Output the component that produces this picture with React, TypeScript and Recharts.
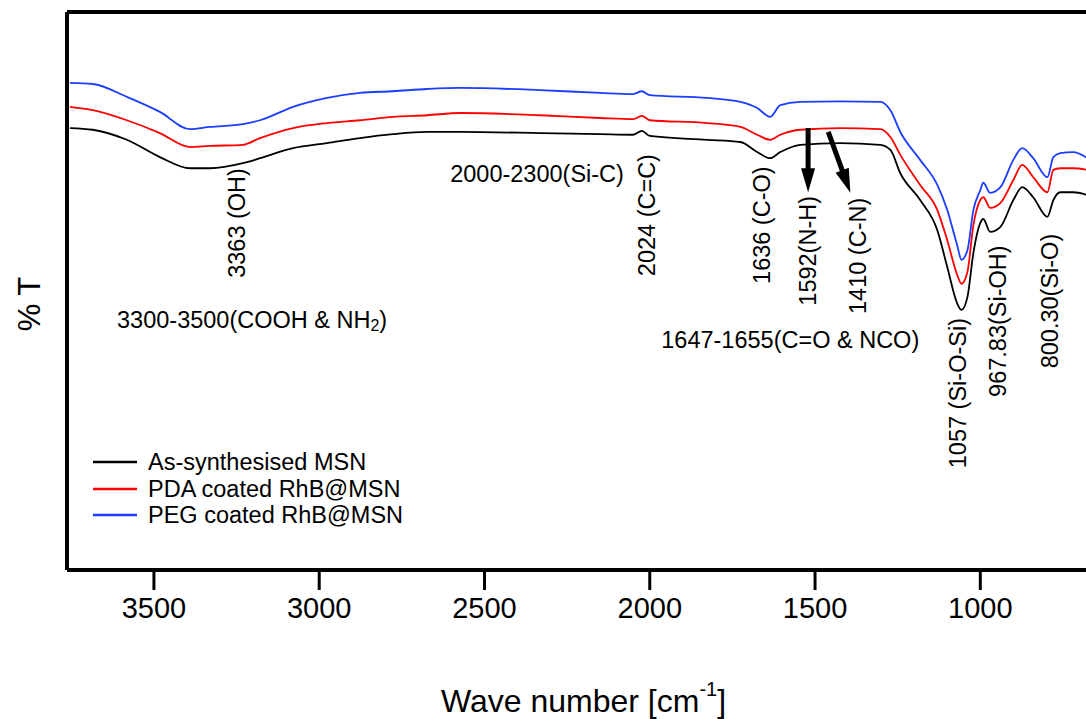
import React from 'react';
import { LineChart, Line, XAxis, YAxis, Legend, ReferenceDot, ReferenceLine } from 'recharts';

const FONT = '"Liberation Sans", Arial, Helvetica, sans-serif';

// Wave numbers (cm^-1)
const wavenumbers = [3754, 3685, 3582, 3482, 3391, 3331, 3231, 3179, 3079, 2976, 2877, 2777, 2674, 2574, 2332, 2150, 2050, 2024, 2000, 1826, 1726, 1675, 1636, 1605, 1545, 1424, 1303, 1272, 1242, 1182, 1130, 1100, 1070, 1057, 1039, 1021, 1000, 991, 970, 939, 900, 873, 840, 797, 779, 758, 719, 676];

// % T (arbitrary offset units)
const asSynthesised = [79.2, 78.9, 77.1, 74.0, 72.0, 72.0, 72.9, 73.8, 75.6, 76.5, 77.4, 78.1, 78.5, 78.5, 78.3, 78.1, 78.0, 78.7, 77.8, 77.1, 76.7, 74.9, 73.8, 74.9, 76.2, 76.5, 76.2, 75.3, 71.1, 66.3, 60.9, 54.3, 47.8, 46.6, 48.9, 56.8, 62.2, 62.9, 60.6, 61.5, 66.3, 68.6, 66.8, 63.3, 66.3, 67.7, 67.7, 67.2];
const pdaCoated = [83.0, 82.4, 80.6, 78.3, 75.8, 76.0, 76.2, 77.4, 79.2, 80.1, 80.6, 81.2, 81.5, 81.9, 81.5, 81.0, 80.8, 81.4, 80.6, 80.1, 79.4, 78.0, 77.1, 78.0, 78.9, 79.2, 79.0, 77.6, 74.4, 69.0, 64.5, 59.1, 52.9, 51.3, 53.4, 61.8, 66.3, 66.8, 64.9, 65.8, 69.9, 72.6, 70.4, 67.7, 71.7, 72.0, 72.0, 71.7];
const pegCoated = [87.3, 87.1, 84.8, 82.1, 79.0, 79.4, 79.9, 80.6, 83.0, 84.6, 85.5, 85.8, 86.2, 86.4, 86.0, 85.5, 85.3, 85.8, 85.1, 84.6, 83.9, 82.8, 81.2, 83.3, 83.9, 84.0, 83.9, 82.4, 78.5, 73.5, 69.0, 64.5, 58.2, 55.6, 57.3, 64.5, 68.1, 69.4, 67.6, 68.6, 73.5, 75.6, 73.8, 70.4, 74.0, 74.7, 74.9, 73.8];

const seriesNames = ['As-synthesised MSN', 'PDA coated RhB@MSN', 'PEG coated RhB@MSN'];
const xTicks = [3500, 3000, 2500, 2000, 1500, 1000];

const data = wavenumbers.map((w, i) => ({
  wn: w,
  msn: asSynthesised[i],
  pda: pdaCoated[i],
  peg: pegCoated[i],
}));

// Band annotations (text, anchor wave number, anchor %T, rotated?)
const bandNotes = [
  { text: '3363 (OH)', wn: 3249, t: 62.2, rot: true },
  { text: '2024 (C=C)', wn: 2008, t: 63.6, rot: true },
  { text: '1636 (C-O)', wn: 1660, t: 61.8, rot: true },
  { text: '1592(N-H)', wn: 1521, t: 57.2, rot: true },
  { text: '1410 (C-N)', wn: 1369, t: 56.3, rot: true },
  { text: '1057 (Si-O-Si)', wn: 1067, t: 31.7, rot: true },
  { text: '967.83(Si-OH)', wn: 946, t: 44.6, rot: true },
  { text: '800.30(Si-O)', wn: 788, t: 48.2, rot: true },
  { text: '2000-2300(Si-C)', wn: 2341, t: 71.0, rot: false },
  { text: '1647-1655(C=O & NCO)', wn: 1575, t: 41.2, rot: false },
  { text: 'NH2', wn: 3203, t: 44.8, rot: false },
];

const arrows = [
  { from: { x: 1521, y: 79.2 }, to: { x: 1521, y: 67.7 } },
  { from: { x: 1460, y: 78.5 }, to: { x: 1393, y: 67.6 } },
];

const NoteShape = (props: any, note: any) => {
  const cx = props.cx;
  const cy = props.cy;
  if (cx == null || cy == null) return <g />;
  if (note.text === 'NH2') {
    return (
      <text x={cx} y={cy} textAnchor="middle" dominantBaseline="central" fontSize={23.5} fontFamily={FONT} fill="#000">
        3300-3500(COOH &amp; NH<tspan dy={5} fontSize={16}>2</tspan><tspan dy={-5}>)</tspan>
      </text>
    );
  }
  return (
    <text
      x={cx}
      y={cy}
      transform={note.rot ? `rotate(-90 ${cx} ${cy})` : undefined}
      textAnchor="middle"
      dominantBaseline="central"
      fontSize={23.5}
      fontFamily={FONT}
      fill="#000"
    >
      {note.text}
    </text>
  );
};

const ArrowShape = (p: any) => {
  const { x1, y1, x2, y2 } = p;
  if ([x1, y1, x2, y2].some((v) => v == null || isNaN(v))) return <g />;
  const dx = x2 - x1;
  const dy = y2 - y1;
  const len = Math.hypot(dx, dy) || 1;
  const ux = dx / len;
  const uy = dy / len;
  const hl = 24;
  const hw = 7;
  const bx = x2 - ux * hl;
  const by = y2 - uy * hl;
  const px = -uy;
  const py = ux;
  return (
    <g>
      <line x1={x1} y1={y1} x2={bx + ux * 2} y2={by + uy * 2} stroke="#000" strokeWidth={5} />
      <polygon points={`${x2},${y2} ${bx + px * hw},${by + py * hw} ${bx - px * hw},${by - py * hw}`} fill="#000" />
    </g>
  );
};

const XTitle = (props: any) => {
  const vb = props.viewBox || { x: 67, y: 570, width: 1029, height: 149 };
  const cx = vb.x + vb.width / 2 + 2;
  const by = vb.y + 142;
  return (
    <text x={cx} y={by} textAnchor="middle" fontSize={32} fontFamily={FONT} fill="#000">
      Wave number [cm<tspan dy={-16} fontSize={20}>-1</tspan><tspan dy={16}>]</tspan>
    </text>
  );
};

const YTitle = (props: any) => {
  const vb = props.viewBox || { x: 0, y: 12, width: 67, height: 558 };
  const cx = vb.x + 29;
  const cy = vb.y + 292;
  return (
    <text x={cx} y={cy} transform={`rotate(-90 ${cx} ${cy})`} textAnchor="middle" dominantBaseline="central" fontSize={31} fontFamily={FONT} fill="#000">
      % T
    </text>
  );
};

const renderLegend = (props: any) => (
  <div style={{ fontFamily: FONT, fontSize: 23.5, color: '#000' }}>
    {(props.payload || []).map((e: any) => (
      <div key={e.value} style={{ display: 'flex', alignItems: 'center', height: 26.5 }}>
        <svg width={44} height={4} style={{ marginRight: 11, display: 'block' }}>
          <line x1={0} y1={2} x2={44} y2={2} stroke={e.color} strokeWidth={2.5} />
        </svg>
        <span style={{ lineHeight: '26.5px', whiteSpace: 'nowrap' }}>{e.value}</span>
      </div>
    ))}
  </div>
);

export default function App() {
  return (
    <div style={{ position: 'absolute', left: 0, top: 0, width: 1086, height: 719, overflow: 'hidden', background: '#fff' }}>
      <LineChart width={1140} height={719} data={data} margin={{ top: 12, right: 44, bottom: 0, left: 0 }}>
        <XAxis
          dataKey="wn"
          type="number"
          domain={[650, 3763]}
          reversed
          allowDataOverflow
          ticks={xTicks}
          interval={0}
          height={149}
          tickSize={20}
          tickMargin={7}
          axisLine={{ stroke: '#000', strokeWidth: 4 }}
          tickLine={{ stroke: '#000', strokeWidth: 3 }}
          tick={{ fontSize: 29, fill: '#000', fontFamily: FONT }}
          label={XTitle}
        />
        <YAxis
          type="number"
          domain={[0, 100]}
          allowDataOverflow
          width={67}
          tick={false}
          tickLine={false}
          axisLine={{ stroke: '#000', strokeWidth: 4 }}
          label={YTitle}
        />
        <ReferenceLine y={100} stroke="#000" strokeWidth={4} ifOverflow="visible" />
        <ReferenceLine x={650} stroke="#000" strokeWidth={4} ifOverflow="visible" />
        <Line dataKey="msn" name={seriesNames[0]} stroke="#000000" strokeWidth={1.8} dot={false} type="monotone" isAnimationActive={false} />
        <Line dataKey="pda" name={seriesNames[1]} stroke="#ff0000" strokeWidth={1.8} dot={false} type="monotone" isAnimationActive={false} />
        <Line dataKey="peg" name={seriesNames[2]} stroke="#1a3dff" strokeWidth={1.8} dot={false} type="monotone" isAnimationActive={false} />
        {bandNotes.map((n) => (
          <ReferenceDot key={n.text} x={n.wn} y={n.t} r={0} ifOverflow="visible" shape={(p: any) => NoteShape(p, n)} />
        ))}
        {arrows.map((a, i) => (
          <ReferenceLine key={'arr' + i} segment={[a.from, a.to]} ifOverflow="visible" shape={ArrowShape} />
        ))}
        <Legend
          layout="horizontal"
          verticalAlign="middle"
          align="center"
          content={renderLegend}
          wrapperStyle={{ left: 93, top: 449, width: 'auto', lineHeight: 'normal' }}
        />
      </LineChart>
    </div>
  );
}
